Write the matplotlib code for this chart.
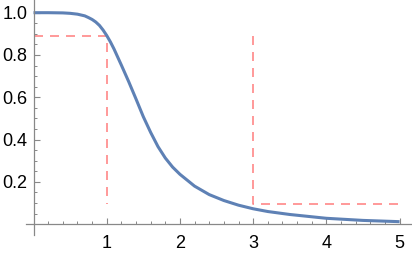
import matplotlib
matplotlib.use("Agg")
import matplotlib.pyplot as plt
from matplotlib.ticker import FixedLocator

# curve
curve_x = [0.0, 0.2, 0.4, 0.5, 0.6, 0.7, 0.75, 0.8, 0.85, 0.9, 0.95, 1.0, 1.05,
           1.1, 1.2, 1.3, 1.4, 1.5, 1.6, 1.7, 1.8, 1.9, 2.0, 2.2, 2.4, 2.6, 2.8,
           3.0, 3.2, 3.5, 4.0, 4.5, 5.0]
curve_y = [1.000, 1.000, 0.999, 0.997, 0.993, 0.985, 0.977, 0.968, 0.956, 0.940,
           0.918, 0.892, 0.862, 0.828, 0.752, 0.674, 0.592, 0.508, 0.434, 0.367,
           0.313, 0.270, 0.236, 0.180, 0.140, 0.112, 0.090, 0.073, 0.060, 0.046,
           0.028, 0.018, 0.012]

# dashed guide lines
guide1_x = [0.0, 1.0, 1.0]
guide1_y = [0.89, 0.89, 0.095]
guide2_x = [3.0, 3.0, 5.0]
guide2_y = [0.89, 0.095, 0.095]

x_ticks = [1, 2, 3, 4, 5]
y_ticks = [0.2, 0.4, 0.6, 0.8, 1.0]
y_labels = ["0.2", "0.4", "0.6", "0.8", "1.0"]
x_minor = [i * 0.2 for i in range(1, 26)]
y_minor = [i * 0.05 for i in range(1, 21)]

plt.rcParams['font.family'] = ['Liberation Sans', 'DejaVu Sans']

fig = plt.figure(figsize=(4.12, 2.57), dpi=100)
ax = fig.add_axes([0, 0, 1, 1])
ax.set_xlim(-0.458, 5.17)
ax.set_ylim(-0.155, 1.06)
ax.patch.set_alpha(0)

red = '#ff8787'
ax.plot(guide1_x, guide1_y, color=red, lw=1.2, dashes=(5.4, 4.2))
ax.plot(guide2_x, guide2_y, color=red, lw=1.2, dashes=(5.4, 4.2))
ax.plot(curve_x, curve_y, color='#5e81b5', lw=2.2, solid_capstyle='butt',
        solid_joinstyle='round')

axis_col = '#888888'
for s in ['top', 'right']:
    ax.spines[s].set_visible(False)
ax.spines['left'].set_position(('data', 0))
ax.spines['bottom'].set_position(('data', 0))
ax.spines['left'].set_bounds(-0.05, 1.06)
ax.spines['bottom'].set_bounds(-0.1, 5.17)
for s in ['left', 'bottom']:
    ax.spines[s].set_color(axis_col)
    ax.spines[s].set_linewidth(0.9)

ax.set_xticks(x_ticks)
ax.set_xticklabels([str(t) for t in x_ticks])
ax.set_yticks(y_ticks)
ax.set_yticklabels(y_labels)
ax.xaxis.set_minor_locator(FixedLocator(x_minor))
ax.yaxis.set_minor_locator(FixedLocator(y_minor))
ax.tick_params(which='major', direction='in', length=4, width=0.8, color=axis_col,
               labelsize=13, labelcolor='black')
ax.tick_params(which='minor', direction='in', length=2.2, width=0.7, color=axis_col)
ax.tick_params(axis='x', which='major', pad=8)
ax.tick_params(axis='y', which='major', pad=4.5)

fig.savefig("out.png", dpi=100)
